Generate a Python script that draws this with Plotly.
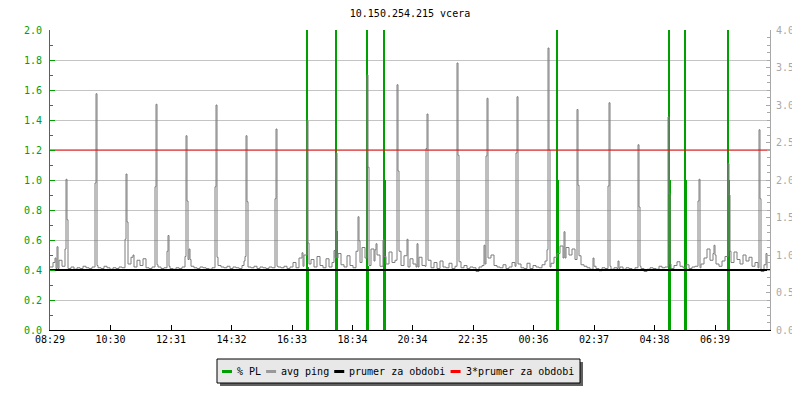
import plotly.graph_objects as go

START = 8 * 60 + 29  # 08:29, left edge of the day shown

# x-axis tick labels (clock time), positions are derived from the clock
tick_labels = ['08:29', '10:30', '12:31', '14:32', '16:33', '18:34',
               '20:34', '22:35', '00:36', '02:37', '04:38', '06:39']

# avg ping [ms] background, one value every 6 minutes from 08:29
ping_base = [
    0.84, 0.90, 0.82, 0.93, 0.85, 0.83, 0.82, 0.84, 0.81, 0.83,
    0.82, 0.85, 0.83, 0.82, 0.84, 0.86, 0.83, 0.82, 0.85, 0.83,
    0.81, 0.83, 0.82, 0.84, 0.83, 0.85, 0.88, 0.97, 0.84, 0.93,
    0.86, 0.95, 0.83, 0.82, 0.84, 0.87, 0.84, 0.82, 0.83, 0.85,
    0.82, 0.81, 0.83, 0.82, 0.84, 0.89, 0.94, 0.85, 0.83, 0.82,
    0.84, 0.83, 0.82, 0.81, 0.83, 0.88, 0.86, 0.84, 0.83, 0.85,
    0.82, 0.84, 0.83, 0.82, 0.86, 0.87, 0.84, 0.83, 0.85, 0.82,
    0.84, 0.83, 0.82, 0.84, 0.83, 0.85, 0.84, 0.83, 0.85, 0.82,
    0.84, 0.90, 0.83, 0.96, 0.85, 1.00, 0.88, 0.94, 0.84, 0.98,
    0.86, 0.83, 0.95, 0.84, 0.90, 0.96, 1.02, 0.87, 0.84, 0.99,
    0.86, 0.83, 1.05, 0.90, 1.10, 0.96, 0.86, 1.08, 0.92, 1.00,
    0.85, 0.98, 0.88, 1.04, 0.90, 0.93, 1.05, 0.86, 0.99, 0.84,
    0.95, 0.88, 0.84, 0.97, 0.86, 0.85, 0.93, 0.83, 0.90, 0.82,
    0.92, 0.84, 0.83, 0.89, 0.82, 0.85, 0.91, 0.83, 0.86, 0.82,
    0.84, 0.83, 0.78, 0.84, 0.86, 0.88, 0.96, 1.00, 0.86, 0.84,
    0.83, 0.87, 0.82, 0.84, 0.90, 0.85, 0.88, 0.83, 0.82, 0.89,
    0.82, 0.86, 0.84, 0.83, 0.87, 0.92, 0.84, 0.89, 0.97, 1.02,
    1.12, 0.96, 1.10, 1.00, 1.08, 0.94, 0.99, 0.87, 0.85, 0.83,
    0.81, 0.85, 0.82, 0.79, 0.83, 0.82, 0.85, 0.81, 0.83, 0.82,
    0.84, 0.81, 0.83, 0.82, 0.80, 0.83, 0.85, 0.82, 0.78, 0.81,
    0.83, 0.82, 0.81, 0.85, 0.83, 0.84, 0.88, 0.82, 0.86, 0.91,
    0.85, 0.83, 0.87, 0.82, 0.84, 0.85, 0.83, 0.88, 0.96, 1.08,
    0.93, 1.02, 0.88, 0.85, 0.92, 0.98, 1.05, 0.90, 1.04, 0.94,
    0.88, 1.00, 0.92, 0.97, 0.85, 0.90, 0.83, 0.78, 0.87, 0.82,
]

# avg ping spikes: minutes after 08:29 and value [ms]
spike_min = [10, 14, 30, 32, 34, 90, 92, 150, 152, 154, 166, 210, 212,
             234, 236, 270, 272, 274, 278, 330, 332, 334, 388, 390, 392,
             394, 450, 452, 504, 508, 514, 516, 568, 572, 616, 618, 634,
             636, 650, 652, 666, 694, 696, 714, 734, 752, 754, 814, 816,
             868, 872, 874, 932, 934, 994, 996, 998, 1028, 1054, 1056,
             1086, 1116, 1118, 1136, 1176, 1178, 1236, 1238, 1296, 1298,
             1328, 1330, 1356, 1358, 1418, 1420, 1432]
spike_val = [0.96, 1.11, 1.08, 2.01, 1.47, 1.96, 3.15, 1.21, 2.08, 1.44,
             1.00, 1.91, 3.01, 1.05, 1.26, 0.98, 2.59, 1.72, 1.08, 1.91,
             3.00, 0.97, 0.92, 0.98, 2.59, 1.71, 1.75, 2.68, 1.03, 1.00,
             2.79, 1.16, 1.06, 2.36, 1.51, 1.19, 3.40, 2.17, 1.07, 1.15,
             1.20, 3.27, 2.12, 1.21, 1.15, 2.42, 2.88, 3.56, 2.33, 1.13,
             2.32, 3.09, 2.36, 3.11, 1.07, 3.76, 2.40, 1.31, 2.94, 1.93,
             0.96, 1.92, 3.03, 0.92, 2.47, 1.64, 2.84, 1.82, 1.72, 2.01,
             1.13, 1.00, 2.22, 1.80, 2.67, 1.75, 1.02]

# % PL events: minutes after 08:29, value (clipped at top) and the lower part
pl_min = [514, 572, 634, 668, 1014, 1238, 1270, 1356]
pl_max = [2.0, 2.0, 2.0, 2.0, 2.0, 2.0, 2.0, 2.0]
pl_avg = [0.42, 0.66, 0.43, 1.0, 1.0, 1.0, 1.0, 1.0]

# average ping over the period [ms]
mean_ping = 0.80

GREEN = '#00a000'
GRAY = '#7c7c7c'
AXGRAY = '#a8a8a8'
FONT = 'DejaVu Sans Mono'

# merge background and spikes into one step series
pts = {6 * i: v for i, v in enumerate(ping_base)}
for m, v in zip(spike_min, spike_val):
    pts[m] = v
for m in spike_min:
    if m + 2 not in pts:
        pts[m + 2] = ping_base[(m + 2) // 6]
ping_t = sorted(pts)
ping_v = [pts[t] for t in ping_t]

tick_vals = []
for lab in tick_labels:
    h, mi = lab.split(':')
    tick_vals.append((int(h) * 60 + int(mi) - START) % 1440)

fig = go.Figure()

fig.add_trace(go.Bar(x=pl_min, y=pl_max, width=2, marker_color=GREEN,
                     marker_line_width=0, name='% PL', showlegend=False))
fig.add_trace(go.Bar(x=pl_min, y=pl_avg, width=6, marker_color=GREEN,
                     marker_line_width=0, name='% PL', showlegend=False))
fig.add_trace(go.Scatter(x=ping_t, y=ping_v, mode='lines', line_shape='hv',
                         line=dict(color=GRAY, width=1), yaxis='y2',
                         name='avg ping', showlegend=False))
fig.add_trace(go.Scatter(x=[0, 1440], y=[mean_ping, mean_ping], mode='lines',
                         line=dict(color='black', width=2), yaxis='y2',
                         name='prumer za obdobi', showlegend=False))
fig.add_trace(go.Scatter(x=[0, 1440], y=[3 * mean_ping, 3 * mean_ping],
                         mode='lines', line=dict(color='red', width=1),
                         yaxis='y2', name='3*prumer za obdobi',
                         showlegend=False))

# page is drawn 8 px in from the corner; plot area is 50..770 x 30..330 px
OFF = 8

def px(x):
    return (x - 50) / 720.0

def py(y):
    return (330 - y) / 300.0

shapes = [
    dict(type='rect', xref='paper', yref='paper', x0=px(220), x1=px(583),
         y0=py(386), y1=py(362), fillcolor='#606060', line_width=0),
    dict(type='rect', xref='paper', yref='paper', x0=px(217), x1=px(580),
         y0=py(383), y1=py(359), fillcolor='#e8e8e8',
         line=dict(color='black', width=1)),
]
annotations = []
legend_items = [('% PL', GREEN), ('avg ping', '#999999'),
                ('prumer za obdobi', 'black'), ('3*prumer za obdobi', 'red')]
cx = 222
for label, col in legend_items:
    shapes.append(dict(type='line', xref='paper', yref='paper', x0=px(cx),
                       x1=px(cx + 10), y0=py(371.5), y1=py(371.5),
                       line=dict(color=col, width=3)))
    annotations.append(dict(text=label, xref='paper', yref='paper',
                            x=px(cx + 13), y=py(371), xanchor='left',
                            yanchor='middle', showarrow=False,
                            font=dict(family=FONT, size=10, color='black')))
    cx += 15 + len(label) * 6.02 + 5

W, H = 800 - OFF, 400 - OFF
fig.update_layout(
    width=W, height=H,
    margin=dict(l=50 - OFF, r=W - (770 - OFF), t=30 - OFF,
                b=H - (330 - OFF)),
    paper_bgcolor='white', plot_bgcolor='white',
    barmode='overlay', bargap=0,
    title=dict(text='10.150.254.215 vcera', x=0.5, xref='paper',
               xanchor='center', y=1 - (13 - OFF) / H, yanchor='middle',
               font=dict(family=FONT, size=10, color='black')),
    font=dict(family=FONT, size=10),
    xaxis=dict(range=[0, 1440], tickvals=tick_vals, ticktext=tick_labels,
               showgrid=False, zeroline=False, showline=True,
               linecolor='black', linewidth=1, ticks='inside', ticklen=5,
               tickcolor='black', tickfont=dict(color='black', size=10),
               automargin=False),
    yaxis=dict(range=[0, 2.0], dtick=0.2, tickformat='.1f',
               showgrid=True, gridcolor='#c4c4c4', gridwidth=1,
               zeroline=False, showline=True, linecolor=GREEN, linewidth=1,
               ticks='inside', ticklen=5, tickcolor=GREEN,
               tickfont=dict(color=GREEN, size=10), ticklabelstandoff=5,
               minor=dict(dtick=0.1, ticks='inside', ticklen=3,
                          tickcolor=GREEN, showgrid=False),
               automargin=False),
    yaxis2=dict(range=[0, 4.0], dtick=0.5, tickformat='.1f',
                overlaying='y', side='right', anchor='x',
                showgrid=False, zeroline=False, showline=True,
                linecolor=AXGRAY, linewidth=1, ticks='inside', ticklen=4,
                tickcolor=AXGRAY, tickfont=dict(color=AXGRAY, size=10),
                ticklabelstandoff=3,
                minor=dict(dtick=0.1, ticks='inside', ticklen=3,
                           tickcolor=AXGRAY, showgrid=False),
                automargin=False),
    shapes=shapes,
    annotations=annotations,
)

fig.write_html('out.html')
